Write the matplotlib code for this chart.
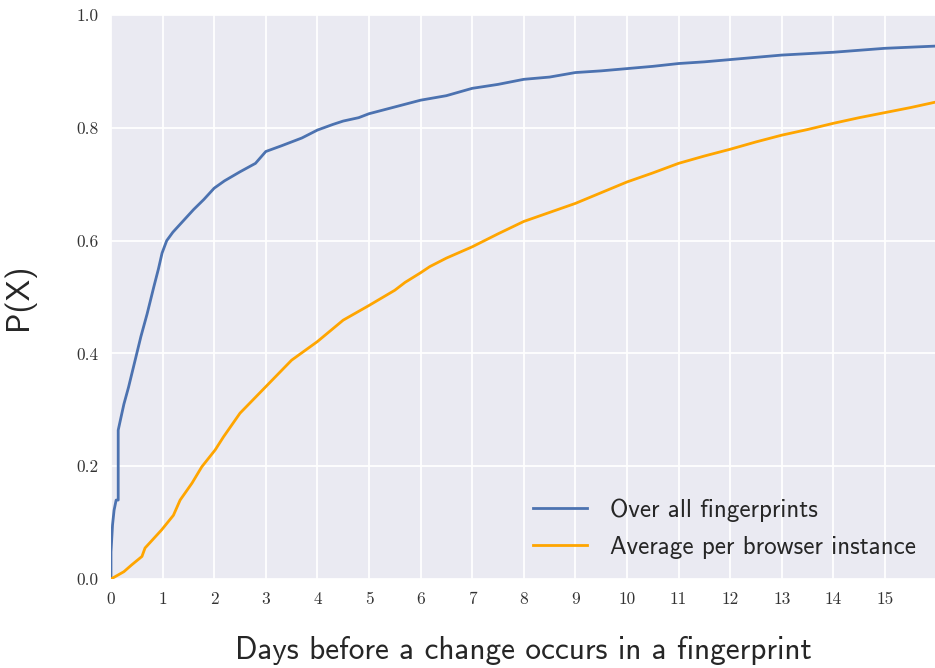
import matplotlib
matplotlib.use("Agg")
import matplotlib.pyplot as plt

days_all = [0.0, 0.0, 0.03, 0.06, 0.10, 0.14, 0.14, 0.19, 0.25, 0.34, 0.42, 0.50,
            0.58, 0.70, 0.83, 0.92, 0.99, 1.08, 1.2, 1.4, 1.6, 1.8, 2.0, 2.2,
            2.5, 2.8, 3.0, 3.3, 3.5, 3.7, 4.0, 4.3, 4.5, 4.8, 5.0, 5.5, 6.0,
            6.5, 7.0, 7.5, 8.0, 8.5, 9.0, 9.5, 10.0, 10.5, 11.0, 11.5, 12.0,
            13.0, 14.0, 15.0, 16.0]
p_all = [0.0, 0.048, 0.096, 0.122, 0.14, 0.14, 0.264, 0.285, 0.31, 0.34, 0.37, 0.40,
         0.43, 0.47, 0.518, 0.55, 0.578, 0.60, 0.615, 0.635, 0.655, 0.673, 0.693, 0.706,
         0.722, 0.737, 0.758, 0.768, 0.775, 0.782, 0.796, 0.806, 0.812, 0.818, 0.825,
         0.837, 0.849, 0.857, 0.870, 0.877, 0.886, 0.890, 0.898, 0.901, 0.905, 0.909,
         0.914, 0.917, 0.921, 0.929, 0.934, 0.941, 0.945]

days_avg = [0.0, 0.25, 0.4, 0.6, 0.66, 0.98, 1.21, 1.34, 1.57, 1.76, 2.02, 2.18,
            2.5, 3.0, 3.5, 4.0, 4.5, 4.75, 5.0, 5.5, 5.7, 6.0, 6.18, 6.5, 7.0,
            7.5, 8.0, 8.5, 9.0, 9.5, 10.0, 10.5, 11.0, 11.5, 12.0, 12.5, 13.0,
            13.5, 14.0, 14.5, 15.0, 15.5, 16.0]
p_avg = [0.0, 0.013, 0.025, 0.04, 0.055, 0.087, 0.113, 0.14, 0.17, 0.199, 0.229, 0.252,
         0.294, 0.341, 0.388, 0.421, 0.459, 0.472, 0.485, 0.512, 0.526, 0.543, 0.554,
         0.569, 0.589, 0.612, 0.634, 0.650, 0.666, 0.685, 0.704, 0.720, 0.737, 0.750,
         0.762, 0.775, 0.787, 0.797, 0.808, 0.818, 0.827, 0.836, 0.846]

x_ticks = list(range(0, 16))
y_ticks = [0.0, 0.2, 0.4, 0.6, 0.8, 1.0]

plt.rcParams["axes.formatter.use_mathtext"] = True

fig = plt.figure(figsize=(9.35, 6.68), dpi=100)
ax = fig.add_axes([0.1187, 0.1332, 0.8813, 0.8443])
ax.set_facecolor("#EAEAF2")
for s in ax.spines.values():
    s.set_visible(False)
ax.grid(True, color="white", linewidth=1.3)
ax.set_axisbelow(True)
ax.tick_params(length=0, pad=9)

ax.plot(days_all, p_all, color="#4C72B0", linewidth=2.0, label="Over all fingerprints")
ax.plot(days_avg, p_avg, color="#FFA500", linewidth=2.0, label="Average per browser instance")

ax.set_xlim(0, 15.97)
ax.set_ylim(0, 1.0)
ax.set_xticks(x_ticks)
ax.set_yticks(y_ticks)
ax.set_xticklabels([str(t) for t in x_ticks], fontfamily="cmr10", fontsize=12.5, color="#333333")
ax.set_yticklabels([f"{t:.1f}" for t in y_ticks], fontfamily="cmr10", fontsize=12.5, color="#333333")

ax.set_xlabel("Days before a change occurs in a fingerprint", fontfamily="cmss10",
              fontsize=22.5, color="#262626", labelpad=21)
ax.set_ylabel("P(X)", fontfamily="cmss10", fontsize=23, color="#262626", labelpad=30)

leg = ax.legend(loc="lower right", frameon=False, prop={"family": "cmss10", "size": 18},
                handlelength=2.15, handletextpad=0.95, labelspacing=0.55,
                bbox_to_anchor=(1.0045, -0.004))
for t in leg.get_texts():
    t.set_color("#262626")

fig.savefig("out.png", dpi=100)
